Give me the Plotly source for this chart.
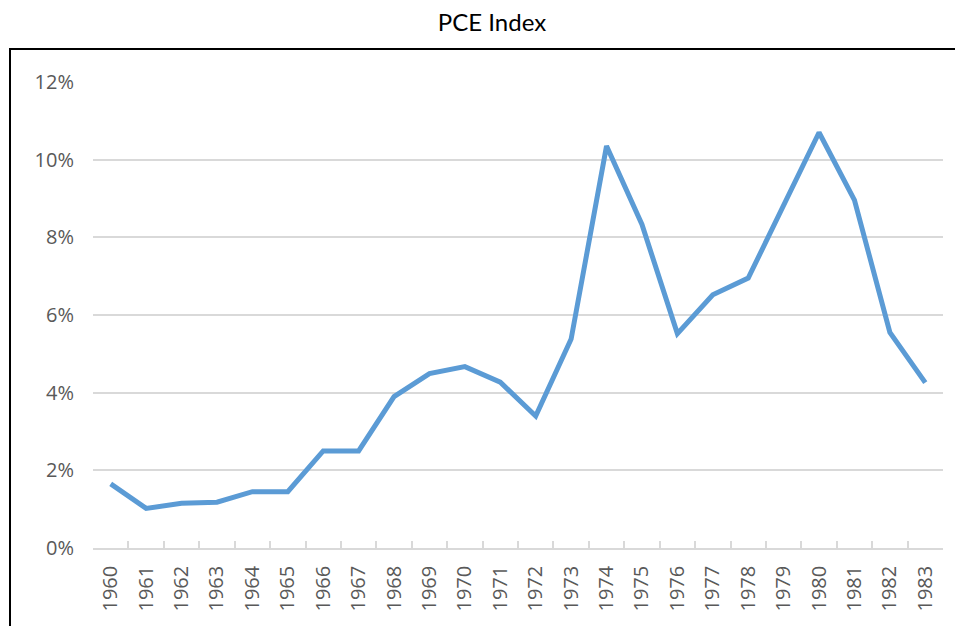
import plotly.graph_objects as go

years = [str(y) for y in range(1960, 1984)]
pce = [1.65, 1.02, 1.15, 1.18, 1.45, 1.45, 2.50, 2.50, 3.90, 4.49, 4.67, 4.27,
       3.40, 5.38, 10.35, 8.33, 5.52, 6.52, 6.95, 8.85, 10.70, 8.96, 5.55, 4.26]
pce_frac = [v / 100 for v in pce]
y_ticks = [0, 0.02, 0.04, 0.06, 0.08, 0.10, 0.12]

OFF = 8  # default page body margin
W, H = 963 - OFF, 626 - OFF
L, T = 93 - OFF, 82 - OFF
R = W - (943 - OFF)
B = H - (548 - OFF)
pw = W - L - R
ph = H - T - B

fig = go.Figure()
fig.add_trace(go.Scatter(
    x=years, y=pce_frac, mode="lines",
    line=dict(color="#5b9bd5", width=5),
    hoverinfo="x+y",
))

fig.update_layout(
    width=W, height=H,
    margin=dict(l=L, r=R, t=T, b=B, autoexpand=False),
    paper_bgcolor="white", plot_bgcolor="white",
    showlegend=False,
    font=dict(family="Open Sans", color="#595959", size=21),
    title=dict(text="PCE Index", x=(492 - OFF) / W, xref="container",
               y=1 - (23 - OFF) / H, yref="container",
               xanchor="center", yanchor="middle",
               font=dict(family="Lato", size=24, color="#000000")),
    xaxis=dict(
        type="category", range=[-0.5, len(years) - 0.5],
        tickangle=-90, tickson="boundaries", automargin=False,
        ticks="inside", ticklen=7, tickcolor="#d9d9d9", tickwidth=1.5,
        showline=True, linecolor="#d9d9d9", linewidth=1.5,
        showgrid=False, zeroline=False, ticklabelstandoff=8,
        tickfont=dict(family="Open Sans", size=20, color="#595959"),
    ),
    yaxis=dict(
        range=[0, 0.12], tickvals=y_ticks, tickformat=".0%",
        showgrid=True, gridcolor="#d9d9d9", gridwidth=1.5, automargin=False,
        zeroline=False, showline=False, ticks="",
        ticklabelstandoff=18,
        tickfont=dict(family="Open Sans", size=20, color="#595959"),
    ),
)

fig.add_shape(type="rect", xref="paper", yref="paper",
              x0=(10 - OFF - L) / pw, x1=(961 - OFF - L) / pw,
              y0=-0.5, y1=(H - B - (49 - OFF)) / ph,
              line=dict(color="black", width=2), fillcolor="rgba(0,0,0,0)",
              layer="below")

fig.write_html("out.html")
